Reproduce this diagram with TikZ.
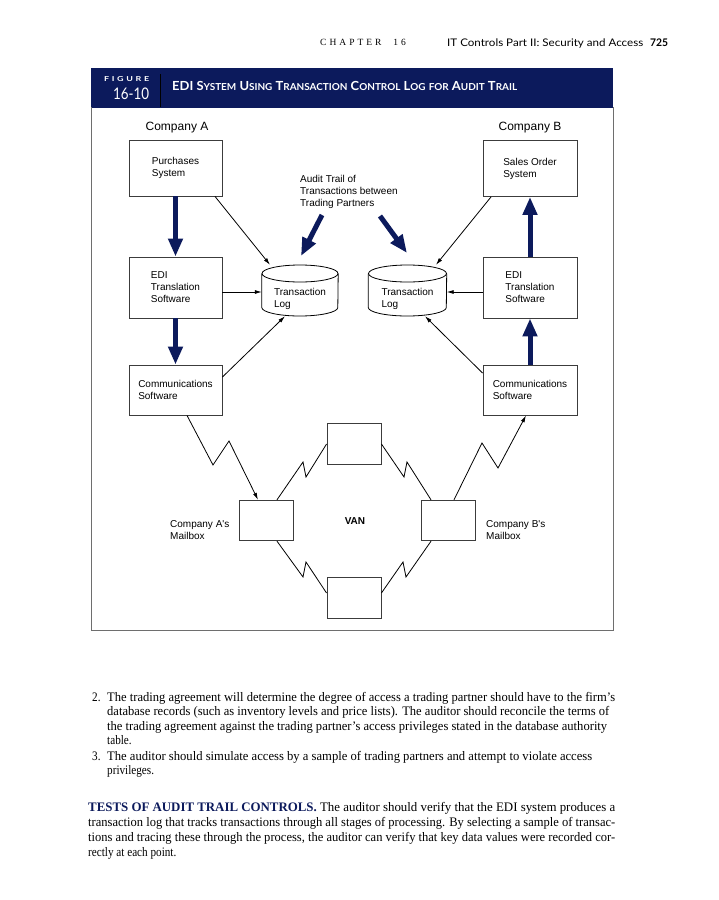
\documentclass[tikz,border=0pt]{standalone}
\usepackage{fontspec}
\usepackage{graphicx}
\setmainfont{Liberation Serif}
\newfontfamily\dsans{Liberation Sans}
\newfontfamily\hsans{Lato}
\usetikzlibrary{arrows.meta}
\definecolor{navy}{RGB}{12,26,92}
\definecolor{boxline}{RGB}{60,60,60}
\definecolor{framegray}{RGB}{110,110,110}
\newcommand\fitw[2]{\resizebox{#1}{\height}{#2}}
\newcommand\sqz[1]{\scalebox{0.86}[1]{#1}}
\newcommand\smc[2]{#1{\fontsize{9.6}{10}\selectfont #2}}
\begin{document}
\begin{tikzpicture}[x=1pt,y=-1pt,
 box/.style={draw=boxline,line width=0.9pt,minimum width=93pt,inner sep=0pt,align=left,font=\dsans\fontsize{10}{12}\selectfont},
 mbox/.style={draw=boxline,line width=0.9pt,minimum width=54pt,minimum height=40.5pt,inner sep=0pt},
 dlabel/.style={font=\dsans\fontsize{10}{12}\selectfont,align=left,inner sep=0pt},
 thin/.style={line width=0.8pt,-{Latex[length=7pt,width=4pt]}},
 wire/.style={line width=0.8pt,line join=miter},
 fat/.style={draw=navy,line width=5pt,-{Triangle[width=14pt,length=18pt]}},
 cyl/.style={line width=0.8pt},
 body/.style={font=\fontsize{13}{15}\selectfont,inner sep=0pt,anchor=base west},
 plain/.style={inner sep=0pt,anchor=base west}
]
\useasboundingbox (0,0) rectangle (719,900);
\fill[white] (0,0) rectangle (719,900);

% page header
\node[plain,font=\fontsize{9.5}{10}\selectfont] (chap) at (320,45.5) {C\hspace{3pt}H\hspace{3pt}A\hspace{3pt}P\hspace{3pt}T\hspace{3pt}E\hspace{3pt}R\hspace{12pt}1\hspace{3pt}6};
\node[plain,font=\hsans\fontsize{10.5}{10}\selectfont] (ctitle) at (447,46) {\fitw{196pt}{IT Controls Part II: Security and Access}};
\node[plain,font=\hsans\bfseries\fontsize{10.5}{10}\selectfont] (pno) at (650,46) {\fitw{18pt}{725}};

% figure band
\fill[navy] (91,68) rectangle (613,107.5);
\draw[black,line width=1pt] (160,74) -- (160,107);
\node[plain,text=white,font=\hsans\bfseries\fontsize{6.8}{7}\selectfont] (figw) at (104,81) {\fitw{45pt}{F\hspace{2pt}I\hspace{2pt}G\hspace{2pt}U\hspace{2pt}R\hspace{2pt}E}};
\node[plain,text=white,font=\hsans\fontsize{16}{16}\selectfont] (fignum) at (113,99.5) {\fitw{36pt}{16-10}};
\node[plain,text=white,font=\hsans\bfseries\fontsize{12.5}{12}\selectfont] (figtitle) at (172,90.5) {\fitw{345pt}{EDI \smc{S}{YSTEM} \smc{U}{SING} \smc{T}{RANSACTION} \smc{C}{ONTROL} \smc{L}{OG} {\fontsize{9.6}{10}\selectfont FOR} \smc{A}{UDIT} \smc{T}{RAIL}}};

% frame
\draw[framegray,line width=1pt] (91,107) -- (91,630) -- (613,630) -- (613,107);

% company headings
\node[inner sep=0pt,anchor=base,font=\dsans\fontsize{12}{14}\selectfont] (coA) at (177,130) {Company A};
\node[inner sep=0pt,anchor=base,font=\dsans\fontsize{12}{14}\selectfont] (coB) at (530,130) {Company B};

% boxes
\node[box,minimum height=56pt] (purch) at (175.5,168) {Purchases\\System};
\node[box,minimum height=61pt] (ediA) at (175.5,287.5) {EDI\\Translation\\Software};
\node[box,minimum height=50pt] (commA) at (175.5,390) {Communications\\Software};
\node[box,minimum width=94pt,minimum height=56pt] (sales) at (530,168.5) {Sales Order\\System};
\node[box,minimum width=94pt,minimum height=61pt] (ediB) at (530,287.5) {EDI\\Translation\\Software};
\node[box,minimum width=94pt,minimum height=50pt] (commB) at (530,390) {Communications\\Software};

% transaction logs
\node[minimum width=76pt,minimum height=51pt,inner sep=0pt] (logA) at (300,290.5) {};
\node[minimum width=78pt,minimum height=51pt,inner sep=0pt] (logB) at (407.5,290.5) {};
\draw[cyl] ([yshift=17pt]logA.center) ellipse [x radius=38, y radius=8.5];
\draw[cyl] ([yshift=17pt]logA.west) -- ([yshift=-17pt]logA.west) arc[start angle=180,end angle=0,x radius=38,y radius=8.5] -- ([yshift=17pt]logA.east);
\draw[cyl] ([yshift=17pt]logB.center) ellipse [x radius=39, y radius=8.5];
\draw[cyl] ([yshift=17pt]logB.west) -- ([yshift=-17pt]logB.west) arc[start angle=180,end angle=0,x radius=39,y radius=8.5] -- ([yshift=17pt]logB.east);
\node[dlabel] (logAt) at (300,299) {Transaction\\Log};
\node[dlabel] (logBt) at (407.5,299) {Transaction\\Log};

% thick flow arrows
\draw[fat] (purch) -- (ediA);
\draw[fat] (ediA) -- (commA);
\draw[fat] (ediB) -- (sales);
\draw[fat] (commB) -- (ediB);

% audit trail
\node[dlabel,anchor=north west] (audit) at (300,175.5) {Audit Trail of\\Transactions between\\Trading Partners};
\coordinate (aL1) at (322,215);
\coordinate (aL2) at (301,256);
\coordinate (aR1) at (380,216);
\coordinate (aR2) at (407,253);
\draw[fat] (aL1) -- (aL2);
\draw[fat] (aR1) -- (aR2);

% thin arrows to logs
\draw[thin] ([xshift=39.5pt]purch.south) -- ([xshift=-30pt]logA.north);
\draw[thin] ([yshift=-4.5pt]ediA.east) -- ([yshift=-1.5pt]logA.west);
\draw[thin] ([yshift=13pt]commA.east) -- ([xshift=-15pt]logA.south);
\draw[thin] ([xshift=-39pt]sales.south) -- ([xshift=28.5pt]logB.north);
\draw[thin] ([yshift=-4.5pt]ediB.west) -- ([yshift=-1.5pt]logB.east);
\draw[thin] ([yshift=17pt]commB.west) -- ([xshift=17.5pt]logB.south);

% VAN
\node[mbox] (mbA) at (266,520.5) {};
\node[mbox] (vanT) at (354,444) {};
\node[mbox] (vanB) at (354,598) {};
\node[mbox] (mbB) at (448,520.5) {};
\node[inner sep=0pt,anchor=base,font=\dsans\bfseries\fontsize{10}{12}\selectfont] (van) at (355,524.5) {VAN};
\node[dlabel,anchor=north west] (mbAl) at (170,520.7) {Company A's\\Mailbox};
\node[dlabel,anchor=north west] (mbBl) at (486,520.7) {Company B's\\Mailbox};

% zigzag links
\draw[wire,-{Latex[length=7pt,width=4pt]}] ([xshift=11.5pt]commA.south) -- (213,465) -- (229,441) -- ([xshift=-8pt]mbA.north);
\draw[wire] ([xshift=11pt]mbA.north) -- (303,462) -- (306,477) -- (vanT.west);
\draw[wire] ([xshift=11pt]mbA.south) -- (303,577) -- (306,562) -- ([yshift=5pt]vanB.west);
\draw[wire] (vanT.east) -- (404,477) -- (407,462) -- ([xshift=-17pt]mbB.north);
\draw[wire] ([yshift=5pt]vanB.east) -- (403,562) -- (406,577) -- ([xshift=-17pt]mbB.south);
\draw[wire,-{Latex[length=7pt,width=4pt]}] ([xshift=6pt]mbB.north) -- (482,443) -- (498,468) -- ([xshift=-4pt]commB.south);

% body text
\node[body] (n2) at (92,701) {\sqz{2.}};
\node[body] (l1) at (107,701) {\fitw{508pt}{The trading agreement will determine the degree of access a trading partner should have to the firm’s}};
\node[body] (l2) at (107,715.5) {\fitw{502pt}{database records (such as inventory levels and price lists). The auditor should reconcile the terms of}};
\node[body] (l3) at (107,730) {\fitw{500pt}{the trading agreement against the trading partner’s access privileges stated in the database authority}};
\node[body] (l4) at (107,744.5) {\sqz{table.}};
\node[body] (n3) at (92,760) {\sqz{3.}};
\node[body] (l5) at (107,760) {\fitw{485pt}{The auditor should simulate access by a sample of trading partners and attempt to violate access}};
\node[body] (l6) at (107,774.5) {\sqz{privileges.}};
\node[body] (t1) at (88,811) {\fitw{527pt}{{\bfseries\color{navy}TESTS OF AUDIT TRAIL CONTROLS.} The auditor should verify that the EDI system produces a}};
\node[body] (t2) at (88,826) {\fitw{527pt}{transaction log that tracks transactions through all stages of processing. By selecting a sample of transac-}};
\node[body] (t3) at (88,841) {\fitw{527pt}{tions and tracing these through the process, the auditor can verify that key data values were recorded cor-}};
\node[body] (t4) at (88,856) {\sqz{rectly at each point.}};
\end{tikzpicture}
\end{document}
